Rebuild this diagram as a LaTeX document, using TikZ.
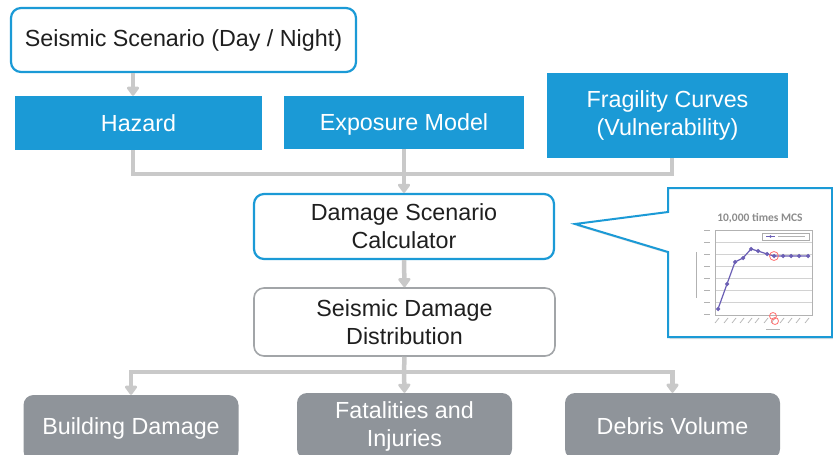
\documentclass[tikz,border=0pt]{standalone}
\usepackage{fontspec}
\setmainfont{Liberation Sans}
\newfontfamily\chartfont{Carlito}
\usetikzlibrary{arrows.meta, shadows}

\definecolor{dsblue}{HTML}{1B9AD6}
\definecolor{dsgray}{HTML}{8F949A}
\definecolor{linkgray}{HTML}{C9C9C9}
\definecolor{framegray}{HTML}{A2A5A8}
\definecolor{mcspurple}{HTML}{6B5FB5}

\begin{document}
\begin{tikzpicture}[
      x=1pt, y=-1pt,
      >={Triangle[width=14pt,length=10pt,round]},
      font=\fontsize{23.3}{28}\selectfont,
      scenbox/.style={draw=dsblue, line width=2.2pt, rounded corners=10pt, fill=white, align=center, inner sep=0pt, text=black!88},
      inbox/.style={fill=dsblue, text=white, align=center, inner sep=0pt},
      distbox/.style={draw=framegray, line width=1.6pt, rounded corners=10pt, fill=white, align=center, inner sep=0pt, text=black!88},
      outbox/.style={fill=dsgray, text=white, rounded corners=10pt, align=center, inner sep=0pt, minimum width=215pt, minimum height=66pt},
      link/.style={draw=linkgray, line width=4.5pt},
      tinytick/.style={draw=gray!60, line width=0.7pt},
  ]
  \clip (0,0) rectangle (833,455);

  % Scenario
  \node[scenbox, minimum width=345pt, minimum height=64pt] (scen) at (183.5, 40) {Seismic Scenario (Day / Night)};

  % --- Input boxes ---
  \node[inbox, minimum width=247pt, minimum height=54pt] (hazard) at (138.5, 123) {Hazard};
  \node[inbox, minimum width=240pt, minimum height=53pt, text depth=0pt] (expo) at (404, 122.5) {Exposure Model};
  \node[inbox, minimum width=241pt, minimum height=85pt] (frag) at (667.5, 115.5) {Fragility Curves \\ (Vulnerability)};

  % --- Calculator and distribution ---
  \node[scenbox, minimum width=300pt, minimum height=65pt] (dsc) at (404, 226.5) {Damage Scenario \\ Calculator};
  \node[distbox, minimum width=301pt, minimum height=68pt] (dist) at (404.5, 322) {Seismic Damage \\ Distribution};

  % --- Outputs ---
  \node[outbox] (bldg) at (131, 428) {Building Damage};
  \node[outbox] (fatal) at (404.5, 426) {Fatalities and \\ Injuries};
  \node[outbox] (debris) at (672.5, 426) {Debris Volume};

  % --- Connectors ---
  \coordinate (merge) at (404, 174);
  \coordinate (split) at (404, 372);
  \draw[link, ->] ([xshift=-5.5pt]hazard.north |- scen.south) -- ([xshift=-5.5pt]hazard.north);
  \draw[link] ([xshift=-5.5pt]hazard.south) |- (merge);
  \draw[link] ([xshift=4.5pt]frag.south) |- (merge);
  \draw[link, ->] (expo.south) -- (dsc.north);
  \draw[link, ->] (dsc.south) -- (dist.north);
  \draw[link] (dist.south) -- (split);
  \draw[link, ->] (split) -| (bldg.north);
  \draw[link, ->] (split) -- (fatal.north);
  \draw[link, ->] (split) -| (debris.north);

  % --- Callout with MCS chart ---
  \coordinate (tip) at (575, 224);
  \draw[draw=dsblue, line width=2pt, fill=white, drop shadow={opacity=0.25, shadow xshift=1.5pt, shadow yshift=-2pt}]
    (668, 212) -- (tip) -- (668, 252) -- (668, 337) -- (832, 337) -- (832, 188) -- (668, 188) -- cycle;
  \node[font=\chartfont\bfseries\fontsize{11.5}{13}\selectfont, text=gray!90] (mcstitle) at (760, 218) {10,000 times MCS};

  \foreach \gy in {242, 254, ..., 303}
    \draw[gray!35, line width=0.5pt] (715, \gy) -- (812, \gy);
  \draw[gray!60, line width=0.7pt] (715, 230) rectangle (812, 315);
  \foreach \gy in {230, 242, ..., 315}
    \draw[tinytick] (704, \gy) -- (710, \gy);
  \draw[tinytick] (696, 252) -- (696, 298);
  \foreach \gx in {718, 727, 735, 743, 751, 758, 767, 774, 783, 791, 799, 808}
    \draw[tinytick] (\gx-3, 323) -- (\gx+1, 318);
  \draw[tinytick] (766, 329) -- (780, 329);

  \draw[gray!65, line width=0.6pt, fill=white] (762, 233) rectangle (809, 240);
  \draw[mcspurple, line width=1pt] (766, 236.5) -- (775, 236.5);
  \fill[mcspurple] (770.5, 236.5) circle (1.3pt);
  \draw[tinytick] (778, 236.5) -- (805, 236.5);

  \draw[mcspurple, line width=1.2pt] plot[mark=*, mark size=1.4pt] coordinates {
    (718, 309) (727, 284) (735, 262) (743, 258) (751, 249) (758, 251)
    (767, 254) (774, 256) (783, 256) (791, 256) (799, 256) (808, 256)};
  \draw[red!55, line width=0.8pt] (774, 256) circle (4.5pt);
  \draw[red!55, line width=0.8pt] (773, 316) circle (3.5pt);
  \draw[red!55, line width=0.8pt] (775, 321) circle (3.5pt);

\end{tikzpicture}
\end{document}
